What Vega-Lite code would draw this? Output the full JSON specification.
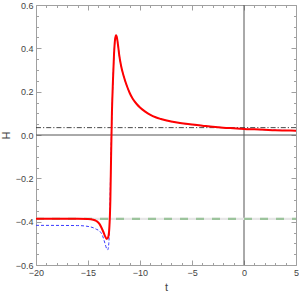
{
  "$schema": "https://vega.github.io/schema/vega-lite/v6.json",
  "width": 260,
  "height": 260,
  "autosize": {"type": "none"},
  "padding": {"left": 36, "top": 5, "right": 3, "bottom": 30},
  "config": {
    "view": {"stroke": null},
    "axis": {"grid": false, "domainColor": "#a0a0a0", "tickColor": "#a0a0a0", "labelColor": "#444444", "titleColor": "#444444", "labelFont": "Liberation Sans", "titleFont": "Liberation Sans", "labelFontSize": 9, "titleFontSize": 11, "titleFontWeight": "normal", "labelOverlap": false, "labelFlush": false}
  },
  "datasets": {
    "zx": [{"t": 0}],
    "zy": [{"H": 0}],
    "curves": [
      {"s": "red", "t": -20, "H": -0.387},
      {"s": "red", "t": -16, "H": -0.387},
      {"s": "red", "t": -15, "H": -0.388},
      {"s": "red", "t": -14.5, "H": -0.391},
      {"s": "red", "t": -14.2, "H": -0.397},
      {"s": "red", "t": -13.9, "H": -0.41},
      {"s": "red", "t": -13.7, "H": -0.428},
      {"s": "red", "t": -13.5, "H": -0.45},
      {"s": "red", "t": -13.35, "H": -0.468},
      {"s": "red", "t": -13.2, "H": -0.48},
      {"s": "red", "t": -13.05, "H": -0.47},
      {"s": "red", "t": -12.95, "H": -0.43},
      {"s": "red", "t": -12.85, "H": -0.3},
      {"s": "red", "t": -12.78, "H": -0.1},
      {"s": "red", "t": -12.7, "H": 0.1},
      {"s": "red", "t": -12.6, "H": 0.25},
      {"s": "red", "t": -12.5, "H": 0.37},
      {"s": "red", "t": -12.4, "H": 0.44},
      {"s": "red", "t": -12.3, "H": 0.46},
      {"s": "red", "t": -12.2, "H": 0.445},
      {"s": "red", "t": -12.1, "H": 0.41},
      {"s": "red", "t": -12.0, "H": 0.37},
      {"s": "red", "t": -11.8, "H": 0.315},
      {"s": "red", "t": -11.6, "H": 0.277},
      {"s": "red", "t": -11.25, "H": 0.225},
      {"s": "red", "t": -11.0, "H": 0.195},
      {"s": "red", "t": -10.7, "H": 0.167},
      {"s": "red", "t": -10.3, "H": 0.142},
      {"s": "red", "t": -10, "H": 0.127},
      {"s": "red", "t": -9.5, "H": 0.108},
      {"s": "red", "t": -9, "H": 0.093},
      {"s": "red", "t": -8.5, "H": 0.082},
      {"s": "red", "t": -8, "H": 0.074},
      {"s": "red", "t": -7, "H": 0.062},
      {"s": "red", "t": -6, "H": 0.054},
      {"s": "red", "t": -5, "H": 0.048},
      {"s": "red", "t": -4, "H": 0.043},
      {"s": "red", "t": -3, "H": 0.038},
      {"s": "red", "t": -2, "H": 0.034},
      {"s": "red", "t": -1, "H": 0.031},
      {"s": "red", "t": 0, "H": 0.028},
      {"s": "red", "t": 1, "H": 0.026},
      {"s": "red", "t": 2, "H": 0.024},
      {"s": "red", "t": 3, "H": 0.022},
      {"s": "red", "t": 4, "H": 0.021},
      {"s": "red", "t": 5, "H": 0.02},
      {"s": "blue", "t": -20, "H": -0.417},
      {"s": "blue", "t": -16, "H": -0.418},
      {"s": "blue", "t": -15, "H": -0.422},
      {"s": "blue", "t": -14.5, "H": -0.428},
      {"s": "blue", "t": -14.2, "H": -0.435},
      {"s": "blue", "t": -13.85, "H": -0.445},
      {"s": "blue", "t": -13.6, "H": -0.465},
      {"s": "blue", "t": -13.37, "H": -0.5},
      {"s": "blue", "t": -13.2, "H": -0.525},
      {"s": "blue", "t": -13.1, "H": -0.53},
      {"s": "blue", "t": -13.0, "H": -0.5},
      {"s": "blue", "t": -12.9, "H": -0.35},
      {"s": "blue", "t": -12.82, "H": -0.15},
      {"s": "blue", "t": -12.72, "H": 0.06},
      {"s": "blue", "t": -12.6, "H": 0.25},
      {"s": "blue", "t": -12.5, "H": 0.37},
      {"s": "blue", "t": -12.4, "H": 0.44},
      {"s": "blue", "t": -12.3, "H": 0.46},
      {"s": "blue", "t": -12.2, "H": 0.445},
      {"s": "blue", "t": -12.1, "H": 0.41},
      {"s": "blue", "t": -12.0, "H": 0.37},
      {"s": "blue", "t": -11.8, "H": 0.315},
      {"s": "blue", "t": -11.6, "H": 0.277},
      {"s": "blue", "t": -11.25, "H": 0.225},
      {"s": "blue", "t": -11.0, "H": 0.195},
      {"s": "blue", "t": -10.7, "H": 0.167},
      {"s": "blue", "t": -10.3, "H": 0.142},
      {"s": "blue", "t": -10, "H": 0.127},
      {"s": "blue", "t": -9, "H": 0.093},
      {"s": "blue", "t": -8, "H": 0.074},
      {"s": "blue", "t": -6, "H": 0.054},
      {"s": "blue", "t": -4, "H": 0.043},
      {"s": "blue", "t": -2, "H": 0.034},
      {"s": "blue", "t": 0, "H": 0.028},
      {"s": "blue", "t": 2, "H": 0.024},
      {"s": "blue", "t": 5, "H": 0.02},
      {"s": "green", "t": -20, "H": -0.387},
      {"s": "green", "t": 5, "H": -0.387},
      {"s": "black", "t": -20, "H": 0.034},
      {"s": "black", "t": 5, "H": 0.034}
    ]
  },
  "resolve": {"axis": {"x": "independent", "y": "independent"}},
  "layer": [
    {
      "layer": [
        {
          "data": {"name": "zx"},
          "mark": {"type": "rule", "color": "#555555", "strokeWidth": 1},
          "encoding": {
            "x": {"field": "t", "type": "quantitative", "scale": {"domain": [-20, 5], "nice": false, "zero": false},
              "axis": {"orient": "bottom", "title": "t", "values": [-20,-19,-18,-17,-16,-15,-14,-13,-12,-11,-10,-9,-8,-7,-6,-5,-4,-3,-2,-1,0,1,2,3,4,5],
                "tickSize": {"condition": {"test": "abs(datum.value % 5) < 0.001", "value": -5}, "value": -2.5},
                "labelExpr": "abs(datum.value % 5) < 0.001 ? format(datum.value, 'd') : ''",
                "labelPadding": 8, "titlePadding": 2}}
          }
        },
        {
          "data": {"name": "zy"},
          "mark": {"type": "rule", "color": "#555555", "strokeWidth": 1},
          "encoding": {
            "y": {"field": "H", "type": "quantitative", "scale": {"domain": [-0.6, 0.6], "nice": false, "zero": false},
              "axis": {"orient": "left", "title": "H", "values": [-0.6,-0.55,-0.5,-0.45,-0.4,-0.35,-0.3,-0.25,-0.2,-0.15,-0.1,-0.05,0,0.05,0.1,0.15,0.2,0.25,0.3,0.35,0.4,0.45,0.5,0.55,0.6],
                "tickSize": {"condition": {"test": "abs(round(datum.value*100)) % 20 == 0", "value": -5}, "value": -2.5},
                "labelExpr": "abs(round(datum.value*100)) % 20 == 0 ? format(datum.value, '.1f') : ''",
                "labelPadding": 8, "titlePadding": 4}}
          }
        }
      ]
    },
    {
      "data": {"name": "curves"},
      "encoding": {
        "x": {"field": "t", "type": "quantitative",
          "axis": {"orient": "top", "title": null, "labels": false, "values": [-20,-19,-18,-17,-16,-15,-14,-13,-12,-11,-10,-9,-8,-7,-6,-5,-4,-3,-2,-1,0,1,2,3,4,5],
            "tickSize": {"condition": {"test": "abs(datum.value % 5) < 0.001", "value": -5}, "value": -2.5}}},
        "y": {"field": "H", "type": "quantitative",
          "axis": {"orient": "right", "title": null, "labels": false, "values": [-0.6,-0.55,-0.5,-0.45,-0.4,-0.35,-0.3,-0.25,-0.2,-0.15,-0.1,-0.05,0,0.05,0.1,0.15,0.2,0.25,0.3,0.35,0.4,0.45,0.5,0.55,0.6],
            "tickSize": {"condition": {"test": "abs(round(datum.value*100)) % 20 == 0", "value": -5}, "value": -2.5}}}
      },
      "layer": [
        {"transform": [{"filter": "datum.s == 'green'"}], "mark": {"type": "line", "color": "#e6e6e6", "strokeWidth": 2.2}},
        {"transform": [{"filter": "datum.s == 'green'"}], "mark": {"type": "line", "color": "#9cc49c", "strokeWidth": 2.2, "strokeDash": [8, 8]}},
        {"transform": [{"filter": "datum.s == 'black'"}], "mark": {"type": "line", "color": "#333333", "strokeWidth": 0.9, "strokeDash": [5, 2, 1.2, 2]}},
        {"transform": [{"filter": "datum.s == 'blue'"}], "mark": {"type": "line", "color": "#3a3aff", "strokeWidth": 1, "strokeDash": [3, 2], "interpolate": "monotone"}},
        {"transform": [{"filter": "datum.s == 'red'"}], "mark": {"type": "line", "color": "#ff0000", "strokeWidth": 2, "interpolate": "monotone"}}
      ]
    }
  ]
}
